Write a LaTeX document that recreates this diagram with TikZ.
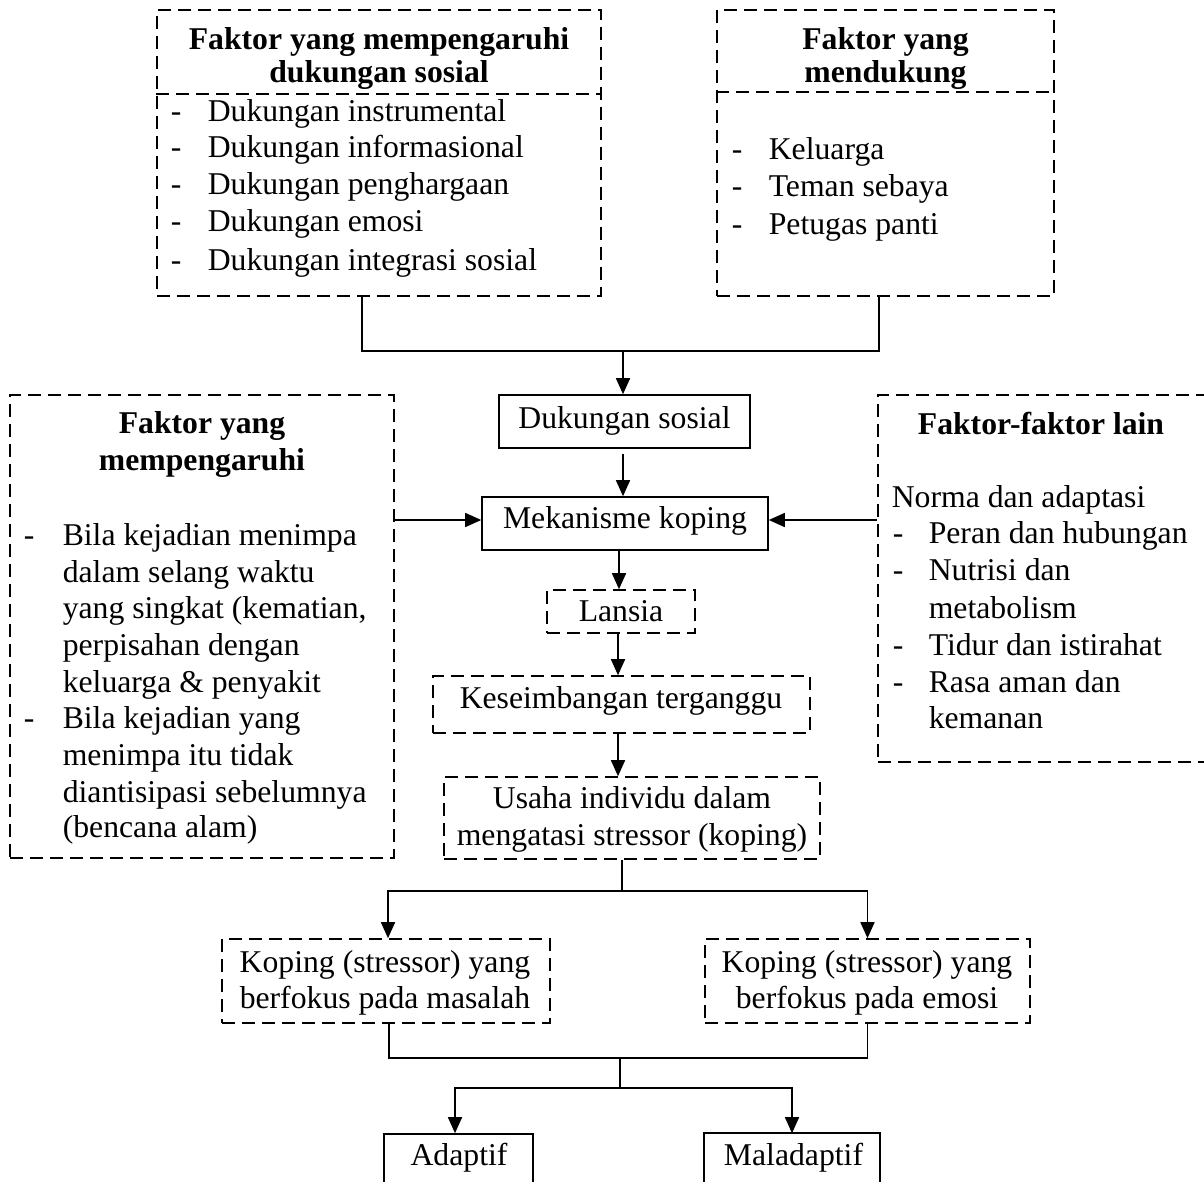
\documentclass[tikz,border=0pt]{standalone}
\usepackage{fontspec}
\setmainfont{Liberation Serif}
\usetikzlibrary{arrows.meta,calc}
\begin{document}
\begin{tikzpicture}[x=1pt,y=-1pt,
  line width=1.6pt,
  font=\fontsize{31.7}{37}\selectfont,
  dbox/.style={draw,dash pattern=on 13pt off 7pt,inner sep=0pt},
  sbox/.style={draw,inner sep=0pt},
  dline/.style={dash pattern=on 13pt off 7pt},
  arr/.style={-{Triangle[length=16pt,width=14pt]}},
  tc/.style={inner sep=0pt,anchor=base},
  tw/.style={inner sep=0pt,anchor=base west},
  hd/.style={inner sep=0pt,anchor=base,font=\fontsize{31.7}{37}\selectfont\bfseries},
]
\useasboundingbox (0,0) rectangle (1204,1182);
\clip (0,0) rectangle (1204,1182);

% ---- boxes ----
\node[dbox,minimum width=444pt,minimum height=286pt] (fa) at (379,153) {};
\node[dbox,minimum width=337pt,minimum height=286pt] (fb) at (885.5,153) {};
\node[dbox,minimum width=384pt,minimum height=463pt] (fc) at (202,626.5) {};
\node[dbox,minimum width=332pt,minimum height=367pt] (fd) at (1044,578.5) {};
\node[sbox,minimum width=251pt,minimum height=53pt] (ds) at (624.5,421.5) {};
\node[sbox,minimum width=286pt,minimum height=53pt] (mk) at (625,523.5) {};
\node[dbox,minimum width=148pt,minimum height=43pt] (la) at (621,611.5) {};
\node[dbox,minimum width=377pt,minimum height=57pt] (ke) at (621.5,704.5) {};
\node[dbox,minimum width=376pt,minimum height=82pt] (us) at (632,818) {};
\node[dbox,minimum width=328pt,minimum height=84pt] (kl) at (386,981) {};
\node[dbox,minimum width=325pt,minimum height=84pt] (kr) at (867.5,981) {};
\node[sbox,minimum width=149pt,minimum height=60pt] (ad) at (458.5,1164) {};
\node[sbox,minimum width=176pt,minimum height=60pt] (ma) at (792,1163) {};

% dividers
\draw[dline] ($(fa.north west)+(0,85)$) -- ($(fa.north east)+(0,85)$);
\draw[dline] ($(fb.north west)+(0,83)$) -- ($(fb.north east)+(0,83)$);

% ---- texts: top left ----
\node[hd] (a1) at (379,50) {Faktor yang mempengaruhi};
\node[hd] (a2) at (379,83) {dukungan sosial};
\node[tw] (a3) at (170,122) {\makebox[37pt][l]{-}Dukungan instrumental};
\node[tw] (a4) at (170,158) {\makebox[37pt][l]{-}Dukungan informasional};
\node[tw] (a5) at (170,195) {\makebox[37pt][l]{-}Dukungan penghargaan};
\node[tw] (a6) at (170,232) {\makebox[37pt][l]{-}Dukungan emosi};
\node[tw] (a7) at (170,270) {\makebox[37pt][l]{-}Dukungan integrasi sosial};

% top right
\node[hd] (b1) at (885.5,50) {Faktor yang};
\node[hd] (b2) at (885.5,83) {mendukung};
\node[tw] (b3) at (731,160) {\makebox[37pt][l]{-}Keluarga};
\node[tw] (b4) at (731,197) {\makebox[37pt][l]{-}Teman sebaya};
\node[tw] (b5) at (731,235) {\makebox[37pt][l]{-}Petugas panti};

% left big box
\node[hd] (c1) at (202,433) {Faktor yang};
\node[hd] (c2) at (202,470) {mempengaruhi};
\node[tw] (c3) at (23,545) {\makebox[39pt][l]{-}Bila kejadian menimpa};
\node[tw] (c4) at (62,582) {dalam selang waktu};
\node[tw] (c5) at (62,618) {yang singkat (kematian,};
\node[tw] (c6) at (62,655) {perpisahan dengan};
\node[tw] (c7) at (62,692) {keluarga \& penyakit};
\node[tw] (c8) at (23,728) {\makebox[39pt][l]{-}Bila kejadian yang};
\node[tw] (c9) at (62,765) {menimpa itu tidak};
\node[tw] (c10) at (62,802) {diantisipasi sebelumnya};
\node[tw] (c11) at (62,837) {(bencana alam)};

% right big box
\node[hd] (d1) at (1041,434) {Faktor-faktor lain};
\node[tw] (d2) at (891,507) {Norma dan adaptasi};
\node[tw] (d3) at (892,543) {\makebox[36pt][l]{-}Peran dan hubungan};
\node[tw] (d4) at (892,580) {\makebox[36pt][l]{-}Nutrisi dan};
\node[tw] (d5) at (928,618) {metabolism};
\node[tw] (d6) at (892,655) {\makebox[36pt][l]{-}Tidur dan istirahat};
\node[tw] (d7) at (892,692) {\makebox[36pt][l]{-}Rasa aman dan};
\node[tw] (d8) at (928,728) {kemanan};

% centre column
\node[tc] (e1) at (624.5,428) {Dukungan sosial};
\node[tc] (e2) at (625,528) {Mekanisme koping};
\node[tc] (e3) at (621,621) {Lansia};
\node[tc] (e4) at (621,708) {Keseimbangan terganggu};
\node[tc] (e5) at (632,808) {Usaha individu dalam};
\node[tc] (e6) at (632,845) {mengatasi stressor (koping)};
\node[tc] (e7) at (385,972) {Koping (stressor) yang};
\node[tc] (e8) at (385,1008) {berfokus pada masalah};
\node[tc] (e9) at (867,972) {Koping (stressor) yang};
\node[tc] (e10) at (867,1008) {berfokus pada emosi};
\node[tc] (e11) at (459,1165) {Adaptif};
\node[tc] (e12) at (793.5,1165) {Maladaptif};

% ---- connectors ----
\coordinate (jt) at (623,351);
\draw ($(fa.south)+(-17,0)$) |- (jt) -| ($(fb.south)+(-6.5,0)$);
\draw[arr] (jt) -- (jt |- ds.north);
\draw[arr,shorten <=5pt] (jt |- ds.south) -- (jt |- mk.north);
\draw[arr] (fc.east |- 0,520) -- (mk.west |- 0,520);
\draw[arr] (fd.west |- 0,520) -- (mk.east |- 0,520);
\draw[arr] (619,0 |- mk.south) -- (619,0 |- la.north);
\draw[arr] (618,0 |- la.south) -- (618,0 |- ke.north);
\draw[arr] (618,0 |- ke.south) -- (618,0 |- us.north);
\coordinate (jm) at (622,891);
\draw (jm |- us.south) -- (jm);
\draw[arr] (jm) -| ($(kl.north)+(2,0)$);
\draw[arr] (jm) -| (kr.north);
\coordinate (jb1) at (620,1058);
\coordinate (jb2) at (620,1088);
\draw ($(kl.south)+(3,0)$) |- (jb1) -| (kr.south);
\draw (jb1) -- (jb2);
\draw[arr] (jb2) -| ($(ad.north)+(-3.5,0)$);
\draw[arr] (jb2) -| (ad.north -| ma.north);
\end{tikzpicture}
\end{document}
